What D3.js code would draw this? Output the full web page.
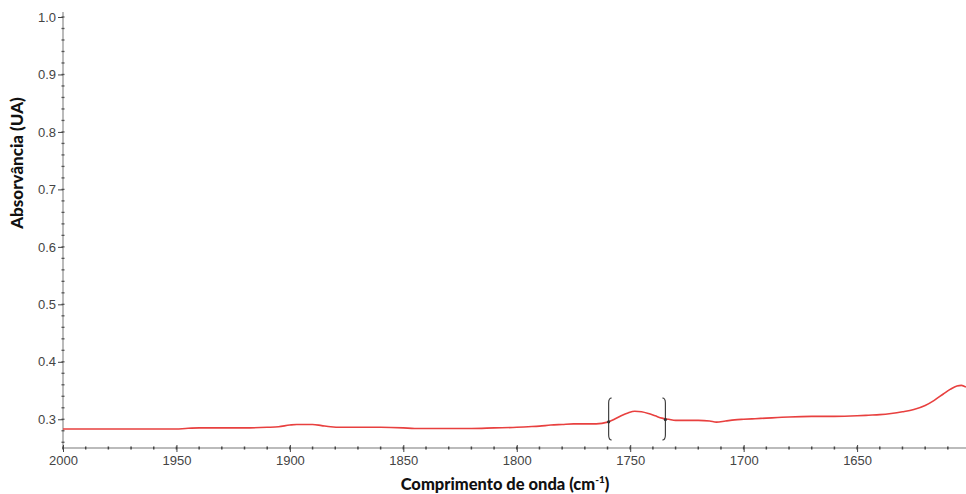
<!DOCTYPE html>
<html><head><meta charset="utf-8">
<script src="https://cdn.jsdelivr.net/npm/d3@7"></script>
<style>body{margin:0;background:#fff}svg{display:block}</style>
</head><body>
<svg id="c" width="966" height="494"></svg>
<script>
const wavenumber = [2000,1990,1980,1970,1960,1950,1946,1940,1930,1920,1910,1905,1900,1897,1893,1890,1886,1882,1878,1870,1860,1850,1845,1840,1830,1820,1810,1800,1795,1790,1785,1780,1775,1770,1765,1760,1757,1754,1751,1748,1745,1742,1739,1736,1733,1730,1725,1720,1715,1712,1708,1704,1700,1695,1690,1685,1680,1670,1660,1650,1645,1640,1635,1630,1625,1620,1616,1612,1609,1606,1604,1602];
const absorbance = [0.283,0.283,0.283,0.283,0.283,0.283,0.284,0.285,0.285,0.285,0.286,0.287,0.290,0.291,0.291,0.291,0.289,0.287,0.286,0.286,0.286,0.285,0.284,0.284,0.284,0.284,0.285,0.286,0.287,0.288,0.290,0.291,0.292,0.292,0.292,0.295,0.300,0.306,0.311,0.314,0.313,0.310,0.306,0.302,0.300,0.298,0.298,0.298,0.297,0.295,0.297,0.299,0.300,0.301,0.302,0.303,0.304,0.305,0.305,0.306,0.307,0.308,0.310,0.313,0.317,0.324,0.333,0.344,0.352,0.358,0.359,0.356];
const bracketsAt = [1759.5, 1734.5];
const xTicks = [2000,1950,1900,1850,1800,1750,1700,1650];
const yTicks = [0.3,0.4,0.5,0.6,0.7,0.8,0.9,1.0];
const xLabel = "Comprimento de onda (cm";
const yLabel = "Absorvância (UA)";

const svg = d3.select("#c");
const x = d3.scaleLinear().domain([2000, 1602]).range([63, 966]);
const y = d3.scaleLinear().domain([0.25, 1.0]).range([448, 17]);

svg.append("line").attr("x1",63).attr("x2",63).attr("y1",12).attr("y2",449).attr("stroke","#bbb").attr("stroke-width",2);
svg.append("line").attr("x1",62).attr("x2",966).attr("y1",448).attr("y2",448).attr("stroke","#bbb").attr("stroke-width",2);

const xMinor = d3.range(2000, 1600, -10);
svg.append("g").selectAll("line").data(xMinor).join("line")
  .attr("x1",d=>x(d)).attr("x2",d=>x(d)).attr("y1",446.5).attr("y2",449.5)
  .attr("stroke","#444").attr("stroke-width",1.5);
const yMinor = d3.range(0.26, 1.001, 0.02);
svg.append("g").selectAll("line").data(yMinor).join("line")
  .attr("x1",61.5).attr("x2",64.5).attr("y1",d=>y(d)).attr("y2",d=>y(d))
  .attr("stroke","#555").attr("stroke-width",1.3);

const xa = svg.append("g").attr("transform","translate(0,448)")
  .call(d3.axisBottom(x).tickValues(xTicks).tickFormat(d3.format("d")).tickSize(4).tickSizeOuter(0));
xa.select(".domain").remove();
xa.selectAll(".tick line").attr("stroke","#444").attr("y1",-3).attr("y2",4);
xa.selectAll("text").attr("fill","#444").attr("font-family","Liberation Sans, Arial, sans-serif").attr("font-size",13).attr("y",5).attr("dy","0.95em");

const ya = svg.append("g").attr("transform","translate(63,0)")
  .call(d3.axisLeft(y).tickValues(yTicks).tickFormat(d3.format(".1f")).tickSize(5).tickSizeOuter(0));
ya.select(".domain").remove();
ya.selectAll(".tick line").attr("stroke","#444");
ya.selectAll("text").attr("fill","#444").attr("font-family","Liberation Sans, Arial, sans-serif").attr("font-size",13).attr("x",-7);

const line = d3.line().x((d,i)=>x(wavenumber[i])).y(d=>y(d)).curve(d3.curveMonotoneX);
svg.append("path").datum(absorbance).attr("d",line).attr("fill","none")
  .attr("stroke","#e8403f").attr("stroke-width",1.6);

const bTop = 398, bBot = 440;
bracketsAt.forEach((b,i)=>{
  const bx = x(b);
  const dir = i===0 ? 1 : -1;
  const p = d3.path();
  p.moveTo(bx + dir*3, bTop);
  p.quadraticCurveTo(bx, bTop, bx, bTop+5);
  p.lineTo(bx, bBot-5);
  p.quadraticCurveTo(bx, bBot, bx + dir*3, bBot);
  svg.append("path").attr("d", p.toString()).attr("fill","none").attr("stroke","#333").attr("stroke-width",1.1);
  svg.append("circle").attr("cx",bx).attr("cy",y(i===0?0.2955:0.2995)).attr("r",1.6).attr("fill","#333");
});

const xl = svg.append("text").attr("x",505).attr("y",490).attr("text-anchor","middle")
  .attr("font-family","Lato, Open Sans, sans-serif").attr("font-weight","900").attr("font-size",16.5).attr("fill","#111");
xl.append("tspan").text(xLabel);
xl.append("tspan").text("-1").attr("font-size",10).attr("dy",-7);
xl.append("tspan").text(")").attr("dy",7);

svg.append("text").attr("transform","translate(23,163) rotate(-90)").attr("text-anchor","middle")
  .attr("font-family","Lato, Open Sans, sans-serif").attr("font-weight","900").attr("font-size",17).attr("fill","#111")
  .text(yLabel);
</script>
</body></html>
